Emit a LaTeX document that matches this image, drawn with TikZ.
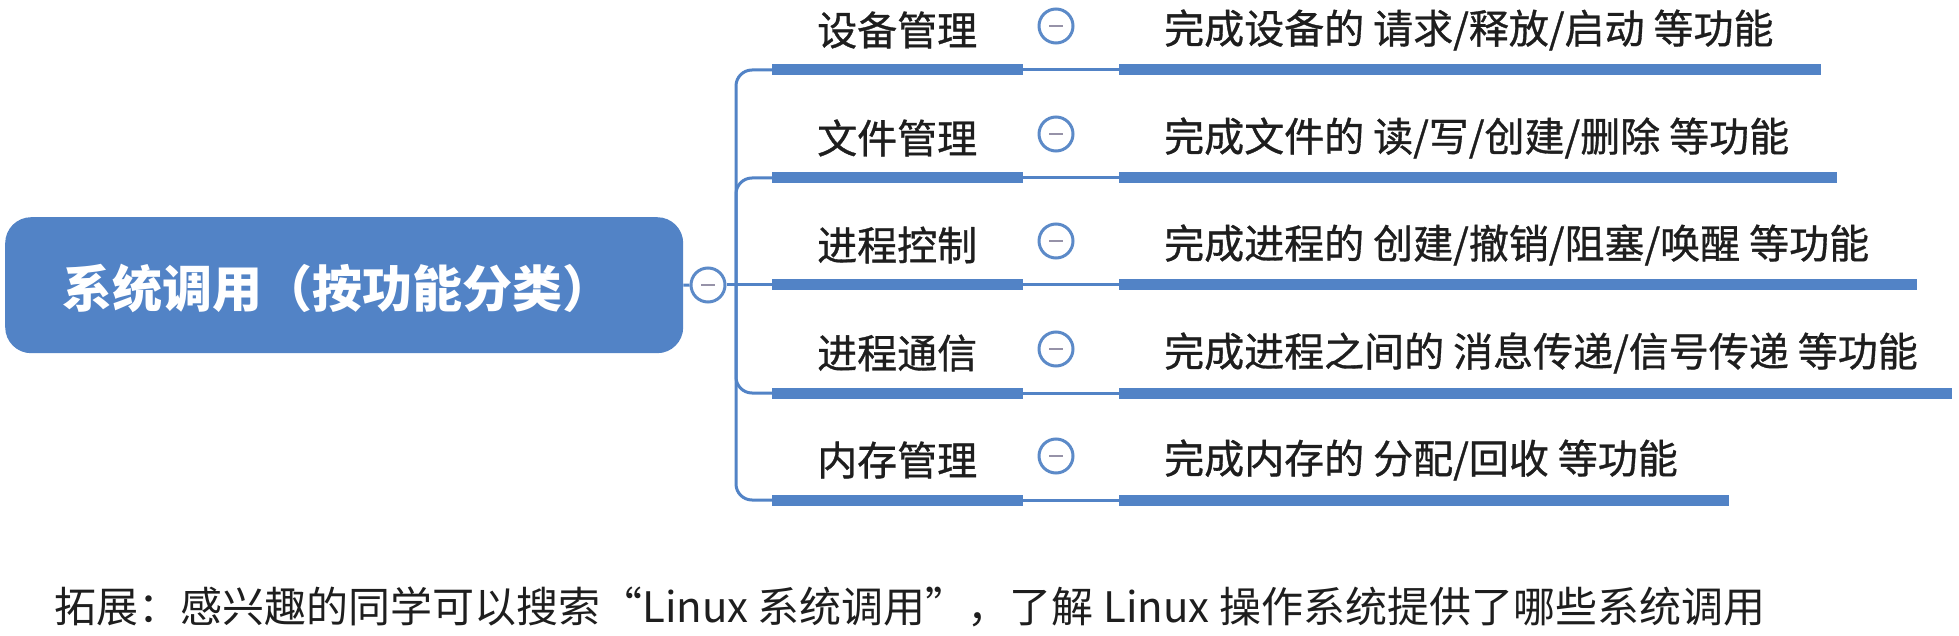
\documentclass[tikz,border=0pt]{standalone}
\usepackage{fontspec}
\newfontfamily\cjk{Noto Sans CJK SC}
\newfontfamily\cjkm[FakeBold=0.8]{Noto Sans CJK SC}
\newfontfamily\cjkfw[RawFeature=+fwid]{Noto Sans CJK SC}
\definecolor{mmblue}{RGB}{82,131,198}
\definecolor{ringblue}{RGB}{92,138,200}
\definecolor{dashgrey}{RGB}{150,146,168}
\definecolor{ink}{RGB}{30,30,30}
\newcommand\mmrow[5]{%
  \coordinate (cs#1) at (772,#2);
  \coordinate (ce#1) at (1023,#2);
  \coordinate (gs#1) at (1119,#2);
  \coordinate (ge#1) at (#3,#2);
  \draw[bar] (cs#1) -- (ce#1);
  \draw[thinline] (ce#1) -- (gs#1);
  \draw[bar] (gs#1) -- (ge#1);
  \node[lbl] (c#1) at (817,#2-40) {#4};
  \node[toggle] (t#1) at (1056,#2-44) {};
  \node[lbl] (g#1) at (1164,#2-40) {#5};
}
\begin{document}
\begin{tikzpicture}[x=1pt,y=-1pt,
  bar/.style={line width=11pt, draw=mmblue},
  thinline/.style={line width=3pt, draw=mmblue},
  toggle/.style={circle, draw=ringblue, line width=3pt, fill=white, minimum size=34pt, inner sep=0pt,
    path picture={\draw[dashgrey, line width=2.5pt] ([xshift=-7pt]path picture bounding box.center) -- ([xshift=7pt]path picture bounding box.center);}},
  lbl/.style={anchor=west, inner sep=0pt, text=ink, font=\cjkm\fontsize{40}{48}\selectfont},
  notelbl/.style={anchor=west, inner sep=0pt, text=ink, font=\cjk\fontsize{42}{50}\selectfont},
  rootbox/.style={fill=mmblue, rounded corners=26pt, minimum width=678pt, minimum height=136pt, inner sep=0pt, anchor=north west},
]
\useasboundingbox (0,0) rectangle (1959,636);
\fill[white] (0,0) rectangle (1959,636);

% root
\node[rootbox] (root) at (5,217) {};
\node[inner sep=0pt, text=white, font=\cjk\bfseries\fontsize{50}{60}\selectfont] (rootlabel) at (337,288) {系统调用（按功能分类）};
\node[toggle] (rc) at (708,285) {};
\draw[thinline] (root.east) -- (rc.west);
\coordinate (jn) at (736,285);

% rows
\mmrow{1}{70}{1821}{设备管理}{完成设备的 请求/释放/启动 等功能}
\mmrow{2}{178}{1837}{文件管理}{完成文件的 读/写/创建/删除 等功能}
\mmrow{3}{285}{1917}{进程控制}{完成进程的 创建/撤销/阻塞/唤醒 等功能}
\mmrow{4}{393}{1952}{进程通信}{完成进程之间的 消息传递/信号传递 等功能}
\mmrow{5}{500}{1729}{内存管理}{完成内存的 分配/回收 等功能}

\draw[thinline] (rc.east) -- (cs3);
\draw[thinline, rounded corners=16pt] (jn) |- (cs1);
\draw[thinline, rounded corners=16pt] (jn) |- (cs2);
\draw[thinline, rounded corners=16pt] (jn) |- (cs4);
\draw[thinline, rounded corners=16pt] (jn) |- (cs5);

% note
\node[notelbl] (note) at (54,607) {拓展：感兴趣的同学可以搜索{\cjkfw “}Linux 系统调用{\cjkfw ”}，了解 Linux 操作系统提供了哪些系统调用};
\end{tikzpicture}
\end{document}
